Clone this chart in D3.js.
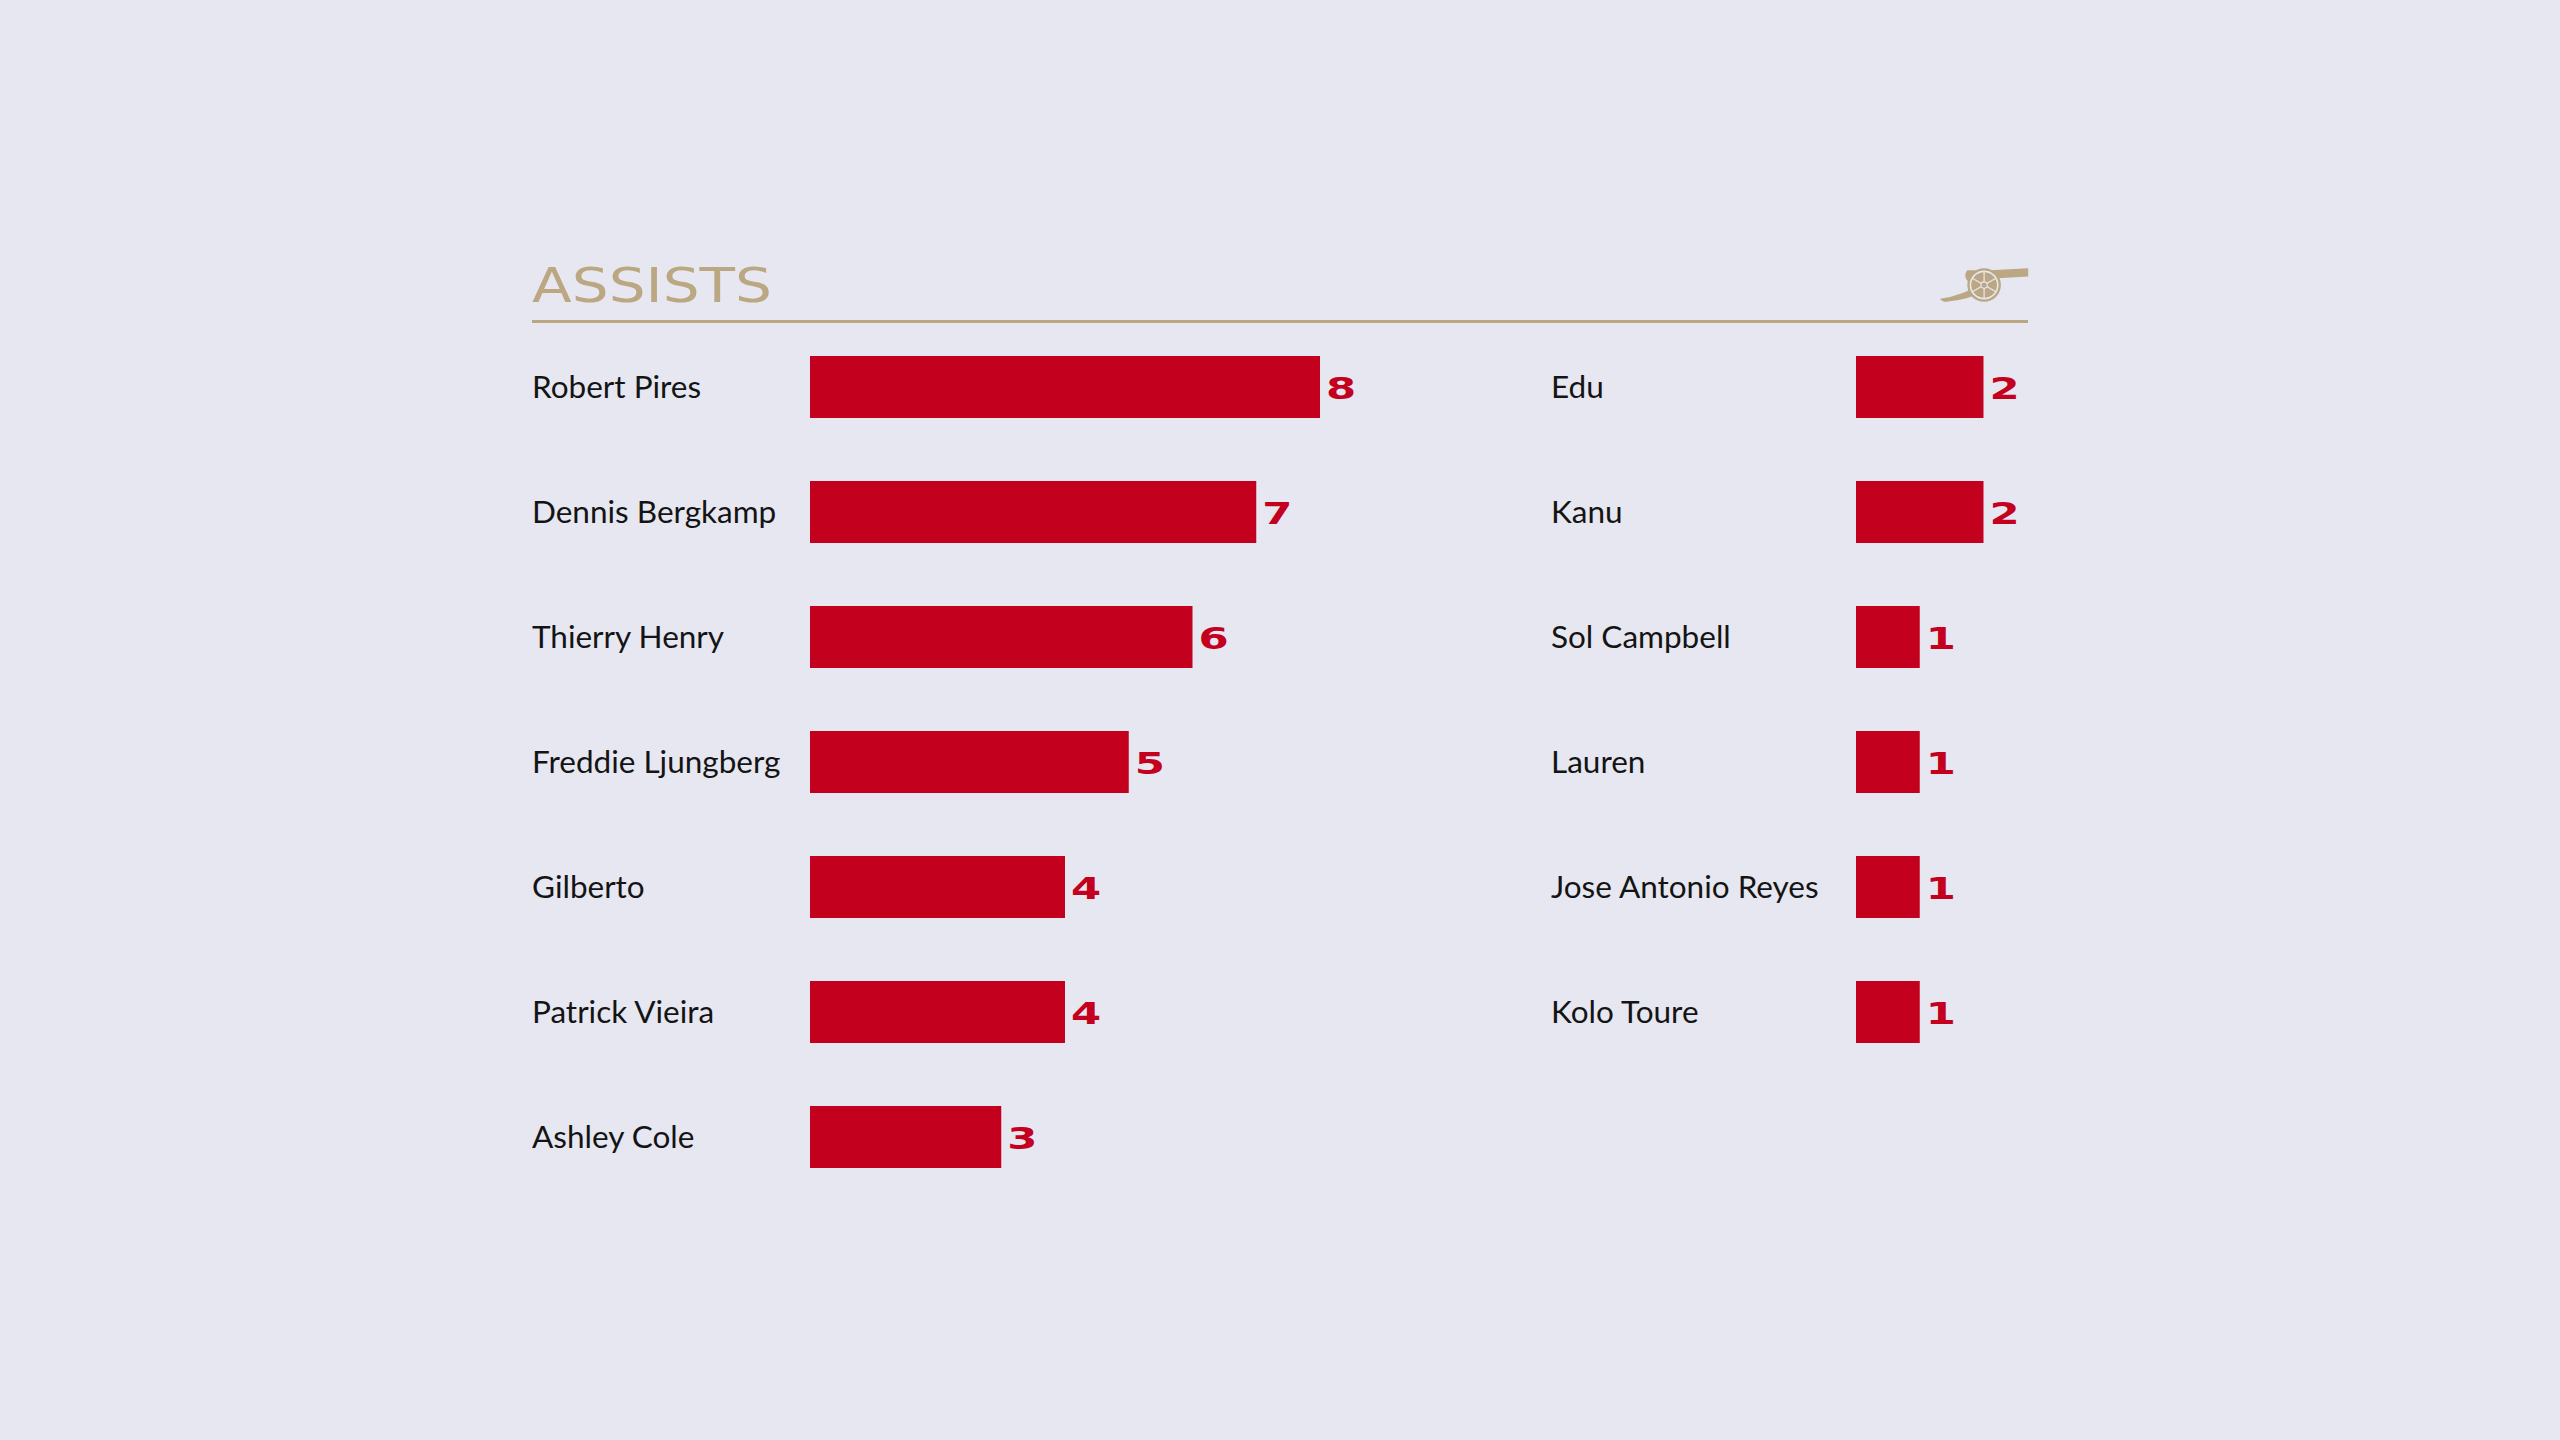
<!DOCTYPE html>
<html>
<head>
<meta charset="utf-8">
<script src="https://cdn.jsdelivr.net/npm/d3@7"></script>
<style>
  html, body { margin: 0; padding: 0; background: #e7e7f1; }
  svg { display: block; }
</style>
</head>
<body>
<svg id="chart" width="2560" height="1440"></svg>
<script>
const title = "ASSISTS";
const leftPlayers = ["Robert Pires", "Dennis Bergkamp", "Thierry Henry", "Freddie Ljungberg", "Gilberto", "Patrick Vieira", "Ashley Cole"];
const leftValues = [8, 7, 6, 5, 4, 4, 3];
const rightPlayers = ["Edu", "Kanu", "Sol Campbell", "Lauren", "Jose Antonio Reyes", "Kolo Toure"];
const rightValues = [2, 2, 1, 1, 1, 1];

const W = 2560, H = 1440;
const red = "#c4001f", gold = "#bba883", bg = "#e7e7f1";
const svg = d3.select("#chart");
svg.append("rect").attr("width", W).attr("height", H).attr("fill", bg);

const rowY = d3.scalePoint().domain(d3.range(7)).range([387, 1137]);
const barH = 62;
const xLen = d3.scaleLinear().domain([0, 8]).range([0, 510]);

// Title
svg.append("text")
  .attr("x", 532).attr("y", 302)
  .attr("fill", gold)
  .attr("font-family", "DejaVu Sans")
  .attr("font-size", 48)
  .attr("textLength", 240).attr("lengthAdjust", "spacingAndGlyphs")
  .text(title);

// Rule
svg.append("rect").attr("x", 532).attr("y", 320).attr("width", 1496).attr("height", 3).attr("fill", gold);

// Cannon logo
const logo = svg.append("g").attr("transform", "translate(1940,264) scale(1.05)").attr("fill", gold);
logo.append("path").attr("d", "M30,7 L84,4 L84,12 L30,15 Z");
logo.append("path").attr("d", "M26,6 Q22,10 26,16 L36,16 L36,6 Z");
logo.append("path").attr("d", "M40,18 Q22,30 0,33 Q2,36 6,36 Q28,34 46,24 Z");
const wheel = logo.append("g").attr("transform", "translate(42,20)");
wheel.append("circle").attr("r", 16).attr("fill", gold);
wheel.append("circle").attr("r", 13).attr("fill", "none").attr("stroke", bg).attr("stroke-width", 1.5);
d3.range(6).forEach(i => {
  const a = i * Math.PI / 3 + Math.PI / 6;
  wheel.append("line").attr("x1", 0).attr("y1", 0)
    .attr("x2", 13 * Math.cos(a)).attr("y2", 13 * Math.sin(a))
    .attr("stroke", bg).attr("stroke-width", 1.2);
});
wheel.append("circle").attr("r", 3).attr("fill", gold).attr("stroke", bg).attr("stroke-width", 1);

function column(players, values, labelX, barX) {
  const g = svg.append("g");
  const rows = g.selectAll("g.row").data(players.map((p, i) => ({ p, v: values[i], i })))
    .enter().append("g").attr("class", "row");
  rows.append("text")
    .attr("x", labelX).attr("y", d => rowY(d.i) + 11)
    .attr("fill", "#141414")
    .attr("font-family", "Lato")
    .attr("font-size", 31.5)
    .text(d => d.p);
  rows.append("rect")
    .attr("x", barX).attr("y", d => rowY(d.i) - barH / 2)
    .attr("width", d => xLen(d.v)).attr("height", barH)
    .attr("fill", red);
  rows.append("text")
    .attr("transform", d => `translate(${barX + xLen(d.v) + 6},${rowY(d.i) + 12}) scale(1.4,1)`)
    .attr("fill", red)
    .attr("font-family", "DejaVu Sans")
    .attr("font-weight", "bold")
    .attr("font-size", 31)
    .text(d => d.v);
}

column(leftPlayers, leftValues, 532, 810);
column(rightPlayers, rightValues, 1551, 1856);
</script>
</body>
</html>
